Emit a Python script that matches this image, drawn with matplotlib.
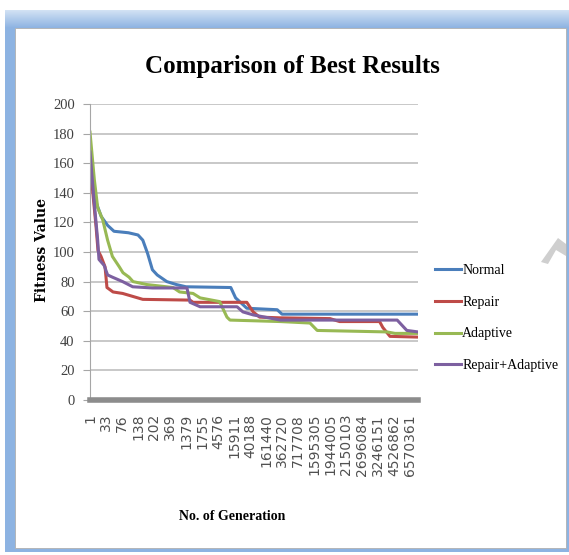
import matplotlib.pyplot as plt
import numpy as np
from matplotlib.patches import Rectangle, Polygon

# figure size in pixels (saved at dpi=100)
W, H = 569, 555

# x axis: generation labels, one every 10 categories
gen_labels = ["1", "33", "76", "138", "202", "369", "1379", "1755", "4576",
              "15911", "40188", "161440", "362720", "717708", "1595305",
              "1944005", "2150103", "2696084", "3246151", "4526862", "6570361"]
n_categories = 205

# series: (category index, fitness value)
normal_x = [0, 4, 7, 11, 15, 24, 30, 33, 36, 39, 42, 48, 54, 60, 88, 91, 98, 117, 120, 205]
normal_y = [160, 133, 124, 118, 114, 113, 111.5, 108, 99, 88, 84.5, 80, 78, 76.5, 76, 69, 62, 61, 58, 58]

repair_x = [0, 3.8, 5, 6.9, 9.4, 10.6, 14.4, 20.4, 26.7, 33, 62.5, 64.4, 98, 102, 106, 119, 150, 156, 181, 183, 187.5, 205]
repair_y = [160, 117, 101, 97, 90, 76, 73, 72, 70, 68, 67.5, 66, 66, 59.5, 56, 55.5, 55, 53, 53, 49, 43, 42.5]

adaptive_x = [0, 2.7, 4.8, 7.9, 11, 14, 18.3, 20.6, 24.4, 26.9, 35.6, 51.9, 56, 64.4, 68.8, 81, 85.6, 87.5, 119, 137.5, 142, 185.6, 190.6, 205]
adaptive_y = [181, 149, 130, 122, 108, 97, 90, 86, 83, 80, 78, 76, 73, 72, 69, 66.5, 56, 54, 53, 52, 47, 46, 45, 45]

repadapt_x = [0, 2.5, 4.8, 5.6, 8.8, 11, 14, 20.4, 26.7, 39, 60.6, 62.5, 68.8, 91.9, 95.6, 102, 119, 192, 198, 205]
repadapt_y = [167.5, 135, 108, 95, 91, 84.5, 83, 80, 76.5, 75.7, 75.7, 66, 63, 63, 59.5, 57.5, 54, 54, 47, 46]


def fx(px):
    return px / W


def fy(py):
    return 1 - py / H


fig = plt.figure(figsize=(W / 100, H / 100), dpi=100)

# --- window frame around the chart ---
fig.patches.append(Rectangle((fx(5), fy(552)), 564 / W, 542 / H, transform=fig.transFigure,
                             facecolor="#8db3e2", edgecolor="none", zorder=-3))
bar = fig.add_axes([fx(5), fy(28), 564 / W, 18 / H], zorder=-2)
grad = np.linspace(0, 1, 50).reshape(-1, 1)
bar.imshow(grad, aspect="auto", cmap=plt.matplotlib.colors.LinearSegmentedColormap.from_list(
    "g", ["#d3e2f4", "#8db3e2"]), extent=(0, 1, 0, 1))
bar.axis("off")
fig.patches.append(Rectangle((fx(15), fy(548)), 551 / W, 520 / H, transform=fig.transFigure,
                             facecolor="white", edgecolor="#b0b0b0", lw=0.6, zorder=-1))
fig.patches.append(Polygon([(fx(541), fy(262)), (fx(558), fy(238)), (fx(566), fy(244)),
                            (fx(566), fy(256)), (fx(556), fy(250)), (fx(548), fy(264))],
                           closed=True, transform=fig.transFigure,
                           facecolor="#cfcfcf", edgecolor="none", zorder=0))

# --- plot area ---
ax = fig.add_axes([fx(90), fy(400), 328 / W, 296 / H], zorder=1)
ax.set_facecolor("none")
ax.plot(normal_x, normal_y, color="#4A7EBB", lw=2.2, label="Normal")
ax.plot(repair_x, repair_y, color="#BE4B48", lw=2.2, label="Repair")
ax.plot(adaptive_x, adaptive_y, color="#98B954", lw=2.2, label="Adaptive")
ax.plot(repadapt_x, repadapt_y, color="#7D60A0", lw=2.2, label="Repair+Adaptive")

ax.set_xlim(0, n_categories)
ax.set_ylim(0, 200)
ax.set_yticks(np.arange(0, 201, 20))
ax.yaxis.grid(True, color="#c4c4c4", lw=1.3)
ax.set_axisbelow(True)
ax.tick_params(axis="y", length=5, color="#a6a6a6", labelsize=10.5, labelcolor="#404040", pad=6)
for lab in ax.get_yticklabels():
    lab.set_family("Liberation Serif")

ax.set_xticks(np.arange(0, 201, 10))
ax.set_xticklabels(gen_labels, rotation=90, fontsize=10, color="#505050", family="DejaVu Sans")
ax.tick_params(axis="x", length=0, pad=10)

ax.spines["top"].set_visible(False)
ax.spines["right"].set_visible(False)
ax.spines["left"].set_color("#a6a6a6")
ax.spines["bottom"].set_color("#8c8c8c")
ax.spines["bottom"].set_linewidth(4)

# --- texts ---
fig.text(fx(292), fy(66), "Comparison of Best Results", ha="center", va="center",
         family="Liberation Serif", weight="bold", size=18)
fig.text(fx(42), fy(250), "Fitness Value", ha="center", va="center", rotation=90,
         family="DejaVu Serif", weight="bold", size=10)
fig.text(fx(232), fy(517), "No. of Generation", ha="center", va="center",
         family="Liberation Serif", weight="bold", size=10)

fig.legend(loc="center left", bbox_to_anchor=(fx(435), fy(318)), frameon=False,
           borderpad=0, borderaxespad=0, handlelength=1.9, handletextpad=0.05,
           labelspacing=1.35, prop={"family": "Liberation Serif", "size": 10})

fig.savefig("out.png", dpi=100)
